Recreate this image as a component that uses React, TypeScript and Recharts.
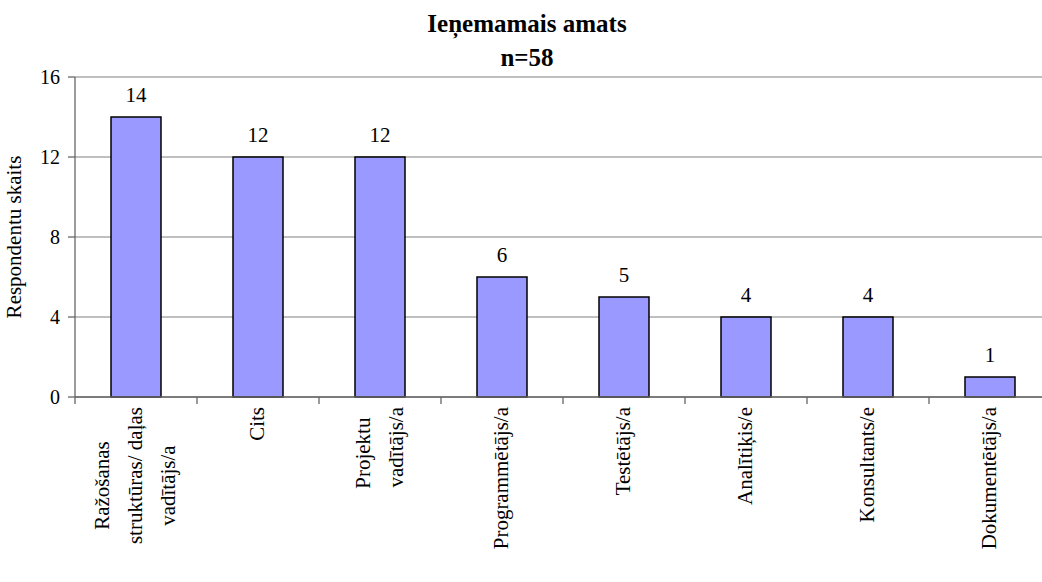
import React from 'react';
import { BarChart, Bar, XAxis, YAxis, CartesianGrid, LabelList } from 'recharts';

const categories = [
  'Ražošanas\nstruktūras/ daļas\nvadītājs/a',
  'Cits',
  'Projektu\nvadītājs/a',
  'Programmētājs/a',
  'Testētājs/a',
  'Analītiķis/e',
  'Konsultants/e',
  'Dokumentētājs/a',
];
const counts = [14, 12, 12, 6, 5, 4, 4, 1];
const yTicks = [0, 4, 8, 12, 16];
const titleLines = ['Ieņemamais amats', 'n=58'];

const FONT = 'serif';
const FS = 21;
const CHART_W = 1060;
const PLOT_LEFT = 75;
const PLOT_RIGHT_MARGIN = 9;
const STEP = (CHART_W - PLOT_LEFT - PLOT_RIGHT_MARGIN) / categories.length;

// rough width of a line in the serif font
const approxWidth = (s: string) => s.length * FS * 0.44;

// rotated, multi-line category label plus boundary tick marks
const CategoryTick = ({ x, y, payload, index }: any) => {
  const lines = String(payload.value).split('\n');
  const widths = lines.map(approxWidth);
  const maxW = Math.max(...widths);
  const longest = widths.indexOf(maxW);
  const top = 10;
  const lineGap = 33;
  return (
    <g transform={`translate(${x},${y})`}>
      <line x1={STEP / 2} y1={0} x2={STEP / 2} y2={7} stroke="#666" strokeWidth={1.3} />
      {index === 0 && <line x1={-STEP / 2} y1={0} x2={-STEP / 2} y2={7} stroke="#666" strokeWidth={1.3} />}
      {lines.map((ln, i) => (
        <text
          key={i}
          transform="rotate(-90)"
          x={i === longest ? -top : -(top + maxW / 2)}
          y={(i - (lines.length - 1) / 2) * lineGap + 6}
          textAnchor={i === longest ? 'end' : 'middle'}
          fontFamily={FONT}
          fontSize={FS}
          fill="#000"
        >
          {ln}
        </text>
      ))}
    </g>
  );
};

export default function App() {
  const data = categories.map((name, i) => ({ name, value: counts[i] }));

  return (
    <div style={{ position: 'absolute', left: 0, top: 0, width: 1042, height: 582, overflow: 'hidden', background: '#fff' }}>
      <svg width={1042} height={75} style={{ position: 'absolute', left: 0, top: 0 }}>
        {titleLines.map((t, i) => (
          <text key={t} x={527} y={32 + i * 34} textAnchor="middle" fontFamily={FONT} fontWeight="bold" fontSize={25} fill="#000">
            {t}
          </text>
        ))}
      </svg>
      <BarChart
        width={CHART_W}
        height={582}
        data={data}
        margin={{ top: 77, right: PLOT_RIGHT_MARGIN, bottom: 0, left: 0 }}
        barSize={50}
      >
        <CartesianGrid vertical={false} stroke="#808080" strokeWidth={1.2} />
        <XAxis
          dataKey="name"
          interval={0}
          height={185}
          tickSize={0}
          tickMargin={0}
          tick={<CategoryTick />}
          axisLine={{ stroke: '#666', strokeWidth: 1.3 }}
          tickLine={false}
        />
        <YAxis
          width={PLOT_LEFT}
          domain={[0, 16]}
          ticks={yTicks}
          interval={0}
          tickSize={7}
          tickMargin={8}
          axisLine={{ stroke: '#666', strokeWidth: 1.3 }}
          tickLine={{ stroke: '#666', strokeWidth: 1.3 }}
          tick={{ fill: '#000', fontFamily: FONT, fontSize: 20 }}
          label={{
            value: 'Respondentu skaits',
            angle: -90,
            position: 'insideLeft',
            offset: 14,
            style: { textAnchor: 'middle', fill: '#000', fontFamily: FONT, fontSize: FS },
          }}
        />
        <Bar dataKey="value" fill="#9999FF" stroke="#000" strokeWidth={1.5} isAnimationActive={false}>
          <LabelList dataKey="value" position="top" offset={15} style={{ fill: '#000', fontFamily: FONT, fontSize: FS }} />
        </Bar>
      </BarChart>
    </div>
  );
}
